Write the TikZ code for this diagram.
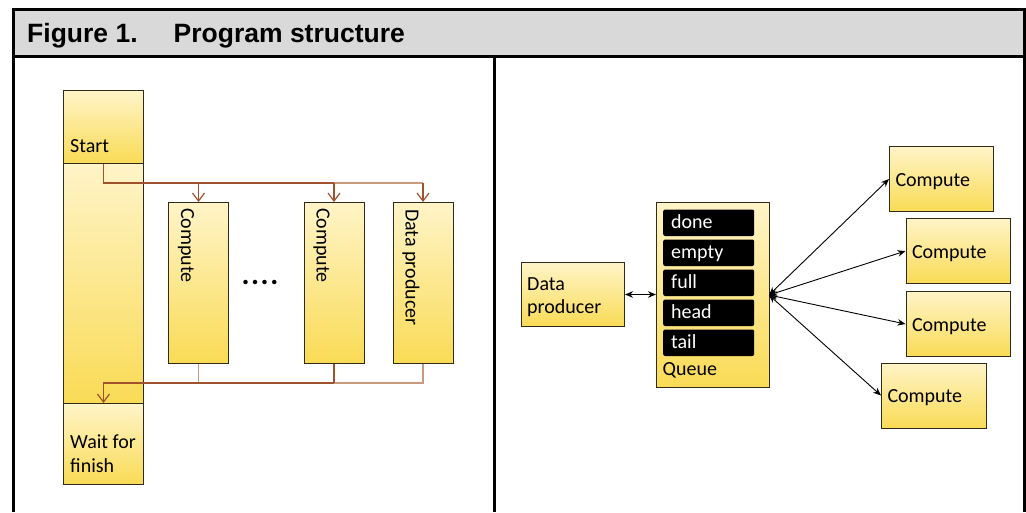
\documentclass[tikz,border=0pt]{standalone}
\usepackage{fontspec}
\setmainfont{Carlito}
\newfontfamily\titlefont{Liberation Sans}
\usetikzlibrary{arrows.meta}
\definecolor{hdr}{HTML}{D9D9D9}
\definecolor{brdark}{HTML}{A0522D}
\definecolor{brlight}{HTML}{C99A80}
\definecolor{ytop}{HTML}{FFF4C8}
\definecolor{ybot}{HTML}{F9DB55}
\definecolor{edge}{HTML}{302A1A}
\begin{document}
\begin{tikzpicture}[x=1pt,y=-1pt,
  box/.style={draw=edge, line width=1pt, top color=ytop, bottom color=ybot,
    rectangle, inner sep=0pt, anchor=north west},
  lbl/.style={font=\fontsize{20}{24}\selectfont, inner sep=0pt, anchor=base west},
  vlbl/.style={lbl, rotate=-90},
  ttl/.style={font=\fontsize{26.5}{30}\selectfont\titlefont\bfseries, inner sep=0pt, anchor=base west},
  qrow/.style={fill=black, rounded corners=2pt, anchor=north west, minimum width=91pt,
    minimum height=26.5pt, inner ysep=0pt, inner xsep=8pt, text width=75pt, align=left,
    text height=15pt, text depth=3.5pt, text=white, font=\fontsize{20}{24}\selectfont},
  rbox/.style={box, minimum height=65pt, inner xsep=6pt, inner ysep=0pt, align=left,
    text height=16pt, text depth=2pt, font=\fontsize{20}{24}\selectfont},
  cd/.style={draw=brdark, line width=1.5pt},
  cl/.style={draw=brlight, line width=1.5pt},
  vtip/.style={-{Straight Barb[length=8pt,width=12pt,line width=1.2pt]}},
  ar/.style={line width=0.9pt, {Stealth[length=8pt,width=6.5pt]}-{Stealth[length=8pt,width=6.5pt]}}
]
\useasboundingbox (0,0) rectangle (1026,512);
% frame
\fill[hdr] (13,9.5) rectangle (1024.5,56);
\draw[line width=3pt] (13,512) -- (13,9.5) -- (1024.5,9.5) -- (1024.5,512);
\draw[line width=3pt] (13,56) -- (1024.5,56);
\draw[line width=3pt] (494.5,56) -- (494.5,512);
\node[ttl] (fig) at (27,42) {Figure 1.};
\node[ttl] (pst) at (173.5,42) {Program structure};

% left panel
\node[box, minimum width=80pt, minimum height=73pt] (start) at (63,90) {};
\node[box, minimum width=80pt, minimum height=240pt] (mid) at (63,163) {};
\node[box, minimum width=80pt, minimum height=81pt] (wait) at (63,403) {};
\node[lbl] (startt) at (70,152.5) {Start};
\node[lbl] (waitt1) at (70,448.5) {Wait for};
\node[lbl] (waitt2) at (70,472.5) {finish};

\node[box, minimum width=60pt, minimum height=161pt] (comp1) at (168,202) {};
\node[box, minimum width=60pt, minimum height=161pt] (comp2) at (303.5,202) {};
\node[box, minimum width=60pt, minimum height=161pt] (dprod) at (392.5,202) {};
\node[vlbl] (comp1t) at (181,208) {Compute};
\node[vlbl] (comp2t) at (316.5,208) {Compute};
\node[vlbl] (dprodt) at (405.5,209) {Data producer};
\node[font=\fontsize{30}{30}\selectfont\bfseries, inner sep=0pt] (dots) at (260,282)
  {.\kern1.5pt.\kern1.5pt.\kern1.5pt.};

\coordinate (bt) at (0,183);
\coordinate (bb) at (0,383);
\draw[cl] (comp2.north |- bt) -- (dprod.north |- bt);
\draw[cd] (start.south) -- (start.south |- bt) -- (comp2.north |- bt);
\draw[cd, vtip] (comp1.north |- bt) -- (comp1.north);
\draw[cd, vtip] (comp2.north |- bt) -- (comp2.north);
\draw[cd, vtip] (dprod.north |- bt) -- (dprod.north);
\draw[cl] (comp1.south) -- (comp1.south |- bb);
\draw[cl] (dprod.south) -- (dprod.south |- bb) -- (comp2.south |- bb);
\draw[cd] (comp2.south) -- (comp2.south |- bb);
\draw[cd, vtip] (comp2.south |- bb) -- (wait.north |- bb) -- (wait.north);

% right panel
\node[box, minimum width=103pt, minimum height=64pt] (rdp) at (521,262) {};
\node[lbl] (rdpt1) at (527,290) {Data};
\node[lbl] (rdpt2) at (527,313) {producer};
\node[box, minimum width=113pt, minimum height=185pt] (queue) at (656,202) {};
\node[qrow] (done) at (663,209.3) {done};
\node[qrow] (empty) at (663,239.3) {empty};
\node[qrow] (full) at (663,269.3) {full};
\node[qrow] (head) at (663,299.3) {head};
\node[qrow] (tail) at (663,329.3) {tail};
\node[lbl] (queuet) at (662.5,375.5) {Queue};

\node[rbox, text width=92pt] (rc1) at (889,146) {Compute};
\node[rbox, text width=92pt] (rc2) at (905.5,218) {Compute};
\node[rbox, text width=92pt] (rc3) at (905.5,291) {Compute};
\node[rbox, text width=93pt] (rc4) at (881,362.5) {Compute};

\draw[ar] (rdp.east) -- (queue.west |- rdp.east);
\coordinate (fan) at (769,295);
\draw[ar] (fan) -- (rc1.west);
\draw[ar] (fan) -- (rc2.west);
\draw[ar] (fan) -- (rc3.west);
\draw[ar] (fan) -- (rc4.west);
\end{tikzpicture}
\end{document}
